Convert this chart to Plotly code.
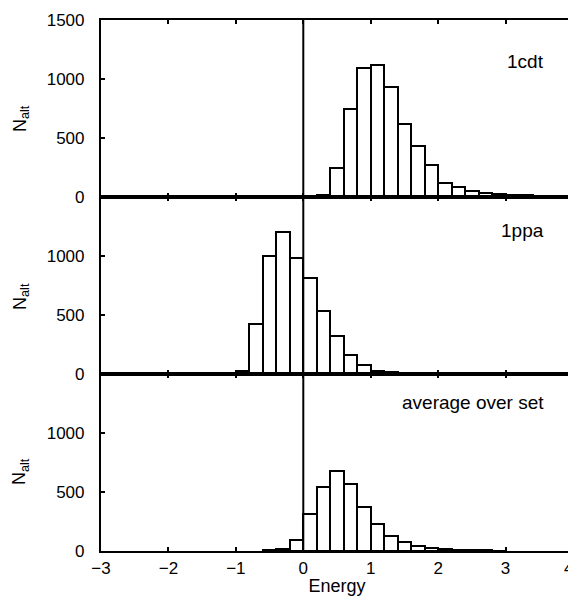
import plotly.graph_objects as go
from plotly.subplots import make_subplots

# Bin centers (width 0.2) and counts per panel
cdt_x = [0.1, 0.3, 0.5, 0.7, 0.9, 1.1, 1.3, 1.5, 1.7, 1.9, 2.1, 2.3, 2.5, 2.7, 2.9, 3.1, 3.3, 3.5, 3.7, 3.9]
cdt_y = [5, 15, 250, 750, 1090, 1120, 935, 620, 430, 275, 120, 85, 50, 38, 28, 20, 14, 10, 6, 4]

ppa_x = [-1.1, -0.9, -0.7, -0.5, -0.3, -0.1, 0.1, 0.3, 0.5, 0.7, 0.9, 1.1, 1.3, 1.5, 1.7, 1.9]
ppa_y = [5, 25, 420, 1000, 1200, 980, 810, 535, 325, 160, 75, 25, 15, 8, 10, 5]

avg_x = [-0.5, -0.3, -0.1, 0.1, 0.3, 0.5, 0.7, 0.9, 1.1, 1.3, 1.5, 1.7, 1.9, 2.1, 2.3, 2.5, 2.7, 2.9]
avg_y = [5, 15, 95, 310, 545, 680, 570, 370, 225, 130, 75, 45, 25, 15, 10, 7, 5, 3]

panel_labels = ["1cdt", "1ppa", "average over set"]
x_ticks = [-3, -2, -1, 0, 1, 2, 3, 4]
x_ticktext = ["\u22123", "\u22122", "\u22121", "0", "1", "2", "3", "4\u2002"]

FONT = "Liberation Sans, Arial, Helvetica, sans-serif"

fig = make_subplots(rows=3, cols=1, shared_xaxes=True, vertical_spacing=0)

for i, (xs, ys) in enumerate([(cdt_x, cdt_y), (ppa_x, ppa_y), (avg_x, avg_y)]):
    fig.add_trace(
        go.Bar(x=xs, y=ys, width=0.2, marker=dict(color="white", line=dict(color="black", width=2)),
               showlegend=False),
        row=i + 1, col=1)

for r in range(1, 4):
    fig.update_xaxes(range=[-3, 4], tickvals=x_ticks, ticktext=x_ticktext, ticks="inside", ticklen=4,
                     tickwidth=2, tickcolor="black", showline=True, linecolor="black", linewidth=2.2,
                     mirror="ticks", showgrid=False, zeroline=False, automargin=False,
                     ticklabeloverflow="allow",
                     tickfont=dict(size=17, color="black"), row=r, col=1)
    yt = [0, 500, 1000, 1500] if r == 1 else [0, 500, 1000]
    fig.update_yaxes(range=[0, 1500], tickvals=yt, ticks="inside", ticklen=4, tickwidth=2,
                     tickcolor="black", showline=True, linecolor="black", linewidth=2.2, mirror="ticks",
                     showgrid=False, zeroline=False, automargin=False, ticklabelstandoff=11,
                     tickfont=dict(size=17, color="black"), row=r, col=1)

fig.update_xaxes(showticklabels=True, title=dict(text="Energy", standoff=3,
                 font=dict(size=18, color="black")), row=3, col=1)

# vertical line at x=0 through all panels
fig.add_shape(type="line", xref="x3", yref="paper", x0=0, x1=0, y0=0, y1=1,
              line=dict(color="black", width=2))

label_pos = [(0.943, 0.921), (0.943, 0.603), (0.943, 0.279)]
for (px, py), txt in zip(label_pos, panel_labels):
    fig.add_annotation(text=txt, xref="paper", yref="paper", x=px, y=py, xanchor="right", yanchor="middle",
                       showarrow=False, font=dict(size=19, color="black"))

for py in [0.815, 0.48, 0.15]:
    fig.add_annotation(text="N<sub>alt</sub>", xref="paper", yref="paper", x=-0.17, y=py,
                       xanchor="center", yanchor="middle", textangle=-90, showarrow=False,
                       font=dict(size=18, color="black"))

fig.update_layout(
    width=576, height=599,
    margin=dict(l=93, r=11, t=12, b=56),
    paper_bgcolor="white", plot_bgcolor="white",
    bargap=0,
    font=dict(family=FONT, size=17, color="black"),
)

fig.write_html("out.html")
